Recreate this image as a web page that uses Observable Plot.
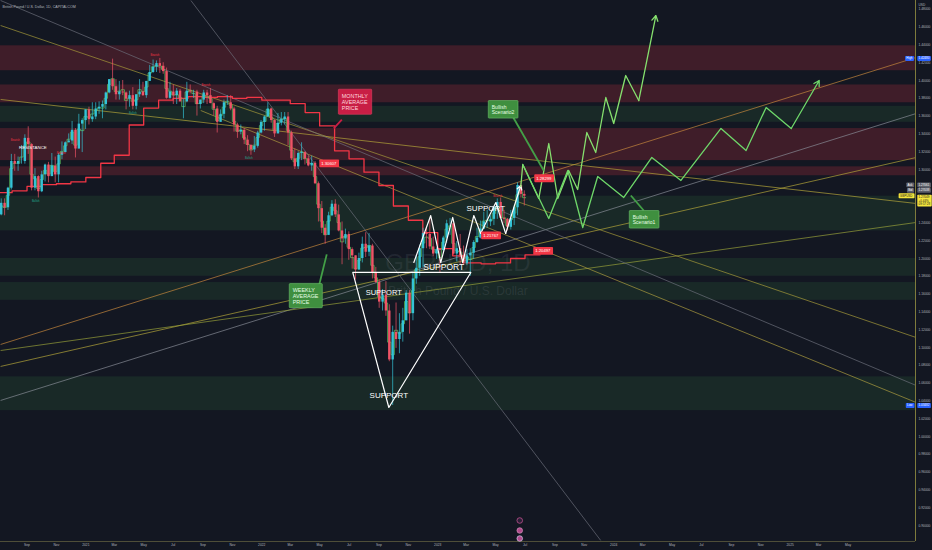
<!DOCTYPE html>
<html><head><meta charset="utf-8">
<script src="https://cdn.jsdelivr.net/npm/d3@7"></script>
<script src="https://cdn.jsdelivr.net/npm/@observablehq/plot@0.6"></script>
<style>
html,body{margin:0;padding:0;background:#131722;}
#chart{width:932px;height:550px;overflow:hidden;}
</style></head><body><div id="chart"></div>
<script>
// ---------- DATA ----------
const WEEK0 = "2020-07-06";
const OPEN0 = 1.2490;
const weekHigh = [1.2670,1.2670,1.2800,1.3170,1.3170,1.3140,1.3270,1.3390,1.3480,1.3290,1.3010,1.2930,1.2980,1.3060,1.3080,1.3180,1.3140,1.3180,1.3310,1.3310,1.3400,1.3540,1.3460,1.3620,1.3570,1.3670,
1.3700,1.3750,1.3750,1.3760,1.3770,1.3870,1.4010,1.4240,1.4010,1.3990,1.4000,1.3870,1.3880,1.3920,1.3840,1.4010,1.3980,1.3990,1.4170,1.4230,1.4220,1.4248,1.4200,1.4140,1.3980,1.3950,1.3910,1.3900,1.3790,1.3980,1.3950,1.3890,1.3890,1.3780,1.3890,1.3890,1.3910,1.3750,1.3710,1.3670,1.3780,1.3830,1.3830,1.3700,1.3520,1.3500,1.3460,1.3380,1.3280,1.3370,1.3430,1.3550,
1.3600,1.3750,1.3690,1.3560,1.3630,1.3640,1.3640,1.3640,1.3430,1.3230,1.3200,1.3300,1.3200,1.3150,1.3150,1.3090,1.2860,1.2640,1.2380,1.2520,1.2650,1.2660,1.2600,1.2410,1.2330,1.2300,1.2120,1.2030,1.2060,1.2240,1.2290,1.2280,1.2160,1.1900,1.1760,1.1650,1.1740,1.1480,1.1240,1.1500,1.1380,1.1440,1.1640,1.1640,1.1840,1.2030,1.2150,1.2340,1.2340,1.2450,1.2240,1.2120,
1.2100,1.2250,1.2430,1.2450,1.2420,1.2190,1.2270,1.2140,1.2100,1.2110,1.2200,1.2340,1.2420,1.2520,1.2540,1.2480,1.2580,1.2670,1.2680,1.2540,1.2450,1.2540,1.2590,1.2850,1.2850,1.2760];
const weekLow = [1.2480,1.2480,1.2540,1.2770,1.2980,1.2980,1.3060,1.3060,1.3170,1.2760,1.2760,1.2680,1.2740,1.2860,1.2850,1.2920,1.2850,1.2850,1.3110,1.3190,1.3300,1.3280,1.3130,1.3230,1.3190,1.3450,
1.3500,1.3530,1.3560,1.3620,1.3570,1.3670,1.3850,1.3890,1.3780,1.3780,1.3830,1.3670,1.3700,1.3670,1.3670,1.3810,1.3820,1.3800,1.3990,1.4080,1.4090,1.4080,1.4070,1.3790,1.3790,1.3730,1.3730,1.3760,1.3570,1.3750,1.3850,1.3800,1.3600,1.3680,1.3740,1.3730,1.3740,1.3600,1.3410,1.3530,1.3570,1.3720,1.3660,1.3420,1.3350,1.3390,1.3280,1.3200,1.3160,1.3190,1.3240,1.3400,
1.3430,1.3590,1.3520,1.3360,1.3400,1.3490,1.3500,1.3270,1.3100,1.3000,1.3000,1.3100,1.3050,1.3030,1.2980,1.2830,1.2410,1.2280,1.2160,1.2260,1.2470,1.2460,1.2300,1.1930,1.2160,1.1980,1.1880,1.1760,1.1870,1.1950,1.2010,1.2020,1.1770,1.1720,1.1440,1.1410,1.1350,1.0840,1.0348,1.0990,1.0930,1.1060,1.1300,1.1150,1.1300,1.1710,1.1800,1.1900,1.2110,1.2100,1.2020,1.1990,
1.1840,1.2070,1.2170,1.2260,1.2040,1.1960,1.1920,1.1920,1.1920,1.1800,1.1990,1.2170,1.2220,1.2330,1.2340,1.2360,1.2370,1.2440,1.2450,1.2390,1.2310,1.2320,1.2370,1.2480,1.2680,1.2590];
const weekClose = [1.2620,1.2570,1.2790,1.3090,1.3060,1.3090,1.3090,1.3350,1.3280,1.2790,1.2920,1.2750,1.2940,1.3050,1.2920,1.3040,1.2940,1.3160,1.3190,1.3300,1.3320,1.3440,1.3230,1.3510,1.3550,1.3670,
1.3560,1.3590,1.3680,1.3700,1.3730,1.3860,1.4010,1.3930,1.3840,1.3870,1.3860,1.3790,1.3830,1.3710,1.3840,1.3870,1.3830,1.3990,1.4090,1.4150,1.4190,1.4160,1.4100,1.3800,1.3870,1.3830,1.3880,1.3760,1.3760,1.3880,1.3870,1.3870,1.3730,1.3780,1.3860,1.3830,1.3740,1.3680,1.3530,1.3620,1.3750,1.3750,1.3680,1.3500,1.3420,1.3440,1.3330,1.3270,1.3220,1.3260,1.3410,1.3530,
1.3590,1.3680,1.3550,1.3400,1.3520,1.3560,1.3590,1.3410,1.3120,1.3030,1.3180,1.3190,1.3120,1.3040,1.3070,1.2840,1.2560,1.2340,1.2260,1.2480,1.2610,1.2490,1.2310,1.2220,1.2270,1.2100,1.2030,1.1870,1.2000,1.2160,1.2070,1.2140,1.1840,1.1730,1.1510,1.1590,1.1410,1.0860,1.1170,1.1090,1.1170,1.1300,1.1610,1.1380,1.1770,1.1890,1.2110,1.2280,1.2270,1.2130,1.2050,1.2100,
1.2090,1.2230,1.2390,1.2390,1.2050,1.2110,1.2030,1.1940,1.2030,1.2060,1.2180,1.2230,1.2330,1.2410,1.2410,1.2440,1.2570,1.2630,1.2450,1.2440,1.2350,1.2450,1.2570,1.2820,1.2720,1.2700];

// monthly average (red step line), one value per month from Jul 2020
const monthlyAvg = [1.274,1.276,1.281,1.283,1.284,1.286,1.291,1.307,1.316,1.350,1.369,1.378,1.380,1.382,1.381,1.382,1.380,1.381,1.378,1.378,1.374,1.364,1.349,1.321,1.312,1.297,1.282,1.259,1.243,1.229,1.211,1.203,1.195,1.194,1.195,1.200,1.204];

// horizontal supply / demand zones
const zoneKind = ["red","red","green","red","red","green","green","green","green"];
const zoneLow  = [1.411,1.375,1.353,1.310,1.293,1.231,1.180,1.153,1.029];
const zoneHigh = [1.439,1.395,1.371,1.346,1.303,1.270,1.200,1.173,1.067];

// trend lines (decimal year, price)
const trendX1 = [2020.517,2020.517,2020.517,2020.517,2020.517,2020.517,2020.517,2021.653,2021.597];
const trendY1 = [1.1034,1.0405,1.0787,1.3787,1.0966,1.4618,1.4899,1.3663,1.4899];
const trendX2 = [2025.716,2025.716,2025.716,2025.716,2025.716,2025.716,2025.716,2025.716,2023.926];
const trendY2 = [1.4259,1.3629,1.3135,1.2618,1.2405,1.1112,1.0573,1.0382,0.8832];
const trendColor = ["#c98a3d","#8a8f99","#b8a93a","#b8a93a","#9aa33a","#a99d3a","#6d717c","#b0a040","#6d717c"];

// white pattern drawings
const triangleYr = [2022.517,2022.722,2023.188,2022.517];
const trianglePx = [1.1843,1.0326,1.1843,1.1843];
const zigYr = [2022.864,2022.960,2023.017,2023.085,2023.142,2023.205,2023.244,2023.330,2023.386,2023.472];
const zigPx = [1.1955,1.2483,1.1955,1.2461,1.1955,1.2483,1.2281,1.2629,1.2281,1.2820];

// projected scenarios
const scen2Yr = [2023.472,2023.483,2023.574,2023.631,2023.682,2023.744,2023.795,2023.847,2023.898,2023.955,2024.0,2024.068,2024.142,2024.239];
const scen2Px = [1.2809,1.3056,1.2674,1.3292,1.2674,1.2989,1.2775,1.3416,1.3191,1.3809,1.3517,1.4056,1.3775,1.4730];
const scen1Yr = [2023.483,2023.631,2023.739,2023.824,2023.909,2024.057,2024.216,2024.381,2024.608,2024.750,2024.864,2025.006,2025.165];
const scen1Px = [1.3056,1.2450,1.2989,1.2348,1.2921,1.2686,1.3135,1.2877,1.3461,1.3214,1.3697,1.3461,1.4000];

// callouts
const calloutText = ["MONTHLY\nAVERAGE\nPRICE","WEEKLY\nAVERAGE\nPRICE","Bullish\nScenario2","Bullish\nScenario1"];
const calloutKind = ["red","green","green","green"];
const calloutSize = [5.4,5.4,5,5];
const calloutYr = [2022.455,2022.176,2023.307,2024.108];
const calloutPx = [1.3855,1.1676,1.3730,1.2494];
const tailYr1 = [2022.455,2022.324,2023.426,2024.170];
const tailPx1 = [1.3560,1.1686,1.3596,1.2539];
const tailYr2 = [2022.409,2022.369,2023.602,2024.097];
const tailPx2 = [1.3461,1.2046,1.2989,1.2708];

// white "SUPPORT"/"RESISTANCE" words
const wordText = ["RESISTANCE","SUPPORT","SUPPORT","SUPPORT","SUPPORT"];
const wordYr = [2020.700,2022.722,2022.693,2023.034,2023.273];
const wordPx = [1.3250,1.0461,1.1618,1.1899,1.2562];
const wordSize = [4.4,8,7.5,8.5,8];

// red price tags
const tagText = ["1.30607","1.28299","1.21767","1.20497"];
const tagYr = [2022.381,2023.603,2023.301,2023.597];
const tagPx = [1.3068,1.2900,1.2259,1.2083];

// pivot labels
const pivotText = ["Bearish","Bearish","Bullish","Bearish","Bullish","Bullish","Bearish","Bearish"];
const pivotYr = [2020.600,2020.860,2020.716,2021.392,2021.267,2021.926,2021.682,2023.341];
const pivotPx = [1.3330,1.3180,1.2641,1.4290,1.3629,1.3124,1.3944,1.2697];

// axis ticks
const priceTicks = [0.90,0.92,0.94,0.96,0.98,1.00,1.02,1.04,1.06,1.08,1.10,1.12,1.14,1.16,1.18,1.20,1.22,1.24,1.26,1.28,1.30,1.32,1.34,1.36,1.38,1.40,1.42,1.44,1.46,1.48];
const timeTickDates = ["2020-09-01","2020-11-01","2021-01-01","2021-03-01","2021-05-01","2021-07-01","2021-09-01","2021-11-01","2022-01-01","2022-03-01","2022-05-01","2022-07-01","2022-09-01","2022-11-01","2023-01-01","2023-03-01","2023-05-01","2023-07-01","2023-09-01","2023-11-01","2024-01-01","2024-03-01","2024-05-01","2024-07-01","2024-09-01","2024-11-01","2025-01-01","2025-03-01","2025-05-01"];
const timeTickLabels = ["Sep","Nov","2021","Mar","May","Jul","Sep","Nov","2022","Mar","May","Jul","Sep","Nov","2023","Mar","May","Jul","Sep","Nov","2024","Mar","May","Jul","Sep","Nov","2025","Mar","May"];

const highValue = 1.42480, lowValue = 1.03482;
const askValue = 1.27061, bidValue = 1.27038, lastValue = 1.27049;

// ---------- BUILD ----------
const yr = v => { const y = Math.floor(v), s = Date.UTC(y,0,1), e = Date.UTC(y+1,0,1); return new Date(s + (v - y) * (e - s)); };
const DAY = 864e5;
const w0 = new Date(WEEK0 + "T00:00:00Z").getTime();
const candles = weekClose.map((c, i) => ({
  mid: new Date(w0 + (7 * i + 3.5) * DAY),
  start: new Date(w0 + 7 * i * DAY),
  open: i ? weekClose[i - 1] : OPEN0,
  high: weekHigh[i], low: weekLow[i], close: c
}));
candles.forEach(d => { d.up = d.close >= d.open; });
const weekly = candles.map(d => ({x: d.start, y: (d.high + d.low + d.close) / 3}));
weekly.push({x: new Date(w0 + 7 * candles.length * DAY), y: weekly[weekly.length - 1].y});
const monthly = monthlyAvg.map((v, i) => ({x: new Date(Date.UTC(2020, 6 + i, 1)), y: v}));
monthly.push({x: new Date(Date.UTC(2020, 6 + monthlyAvg.length, 1)), y: monthlyAvg[monthlyAvg.length - 1]});

const xDomain = [new Date("2020-07-08T00:00:00Z"), new Date("2025-09-18T00:00:00Z")];
const yDomain = [0.8820, 1.4899];
const zones = zoneKind.map((k, i) => ({k, lo: zoneLow[i], hi: zoneHigh[i]}));
const trends = trendX1.map((x, i) => ({x1: yr(x), y1: trendY1[i], x2: yr(trendX2[i]), y2: trendY2[i], c: trendColor[i]}));
const pts = (xs, ys) => xs.map((x, i) => ({x: yr(x), y: ys[i]}));
const tri = pts(triangleYr, trianglePx);
const zig = pts(zigYr, zigPx);
const s2 = pts(scen2Yr, scen2Px);
const s1 = pts(scen1Yr, scen1Px);
const lastSeg = a => [{x1: a[a.length - 2].x, y1: a[a.length - 2].y, x2: a[a.length - 1].x, y2: a[a.length - 1].y}];
const callouts = calloutText.map((t, i) => ({t, k: calloutKind[i], s: calloutSize[i], x: yr(calloutYr[i]), y: calloutPx[i],
  x1: yr(tailYr1[i]), y1: tailPx1[i], x2: yr(tailYr2[i]), y2: tailPx2[i]}));
const words = wordText.map((t, i) => ({t, x: yr(wordYr[i]), y: wordPx[i], s: wordSize[i]}));
const tags = tagText.map((t, i) => ({t, x: yr(tagYr[i]), y: tagPx[i]}));
const pivots = pivotText.map((t, i) => ({t, x: yr(pivotYr[i]), y: pivotPx[i]}));
const tickDates = timeTickDates.map(d => new Date(d + "T00:00:00Z"));
const tickMap = new Map(tickDates.map((d, i) => [+d, timeTickLabels[i]]));
const xEnd = xDomain[1];
const evDate = yr(2023.466);
const fmt5 = d3.format(".5f");
const lastLabel = fmt5(lastValue) + "\n+0.44%\n09:57:28";

const chart = Plot.plot({
  width: 932, height: 550,
  marginLeft: 0, marginRight: 17, marginTop: 0, marginBottom: 9,
  x: {type: "utc", domain: xDomain},
  y: {domain: yDomain},
  style: {background: "#131722", color: "#b2b5be", fontFamily: "Liberation Sans, Arial, sans-serif"},
  marks: [
    Plot.rect(zones, {x1: () => xDomain[0], x2: () => xDomain[1], y1: "lo", y2: "hi",
      fill: d => d.k === "red" ? "#f23645" : "#4caf50", fillOpacity: d => d.k === "red" ? 0.2 : 0.12}),
    Plot.text(["GBPUSD, 1D"], {frameAnchor: "middle", dy: -8, text: d => d, fontSize: 24, fill: "#787b86", fillOpacity: 0.16}),
    Plot.text(["British Pound / U.S. Dollar"], {frameAnchor: "middle", dy: 20, text: d => d, fontSize: 12, fill: "#787b86", fillOpacity: 0.2}),
    Plot.link(trends, {x1: "x1", y1: "y1", x2: "x2", y2: "y2", stroke: d => d.c, strokeWidth: 0.8, strokeOpacity: 0.85, clip: true}),
    Plot.line(monthly, {x: "x", y: "y", curve: "step-after", stroke: "#f23645", strokeWidth: 1.3}),
    Plot.line(weekly, {x: "x", y: "y", curve: "step-after", stroke: "#5cc962", strokeWidth: 0.8, strokeOpacity: 0.9}),
    Plot.ruleX(candles, {x: "mid", y1: "low", y2: "high", stroke: d => d.up ? "#34c3d6" : "#ef5366", strokeWidth: 0.7}),
    Plot.ruleX(candles, {x: "mid", y1: "open", y2: "close", stroke: d => d.up ? "#34c3d6" : "#ef5366", strokeWidth: 2.4}),
    Plot.line(tri, {x: "x", y: "y", stroke: "#ffffff", strokeWidth: 1.2}),
    Plot.line(zig.slice(0, -1), {x: "x", y: "y", stroke: "#ffffff", strokeWidth: 1.2}),
    Plot.arrow(lastSeg(zig), {x1: "x1", y1: "y1", x2: "x2", y2: "y2", stroke: "#ffffff", strokeWidth: 1.2, headLength: 6}),
    Plot.line(s2.slice(0, -1), {x: "x", y: "y", stroke: "#86e06e", strokeWidth: 1.3}),
    Plot.arrow(lastSeg(s2), {x1: "x1", y1: "y1", x2: "x2", y2: "y2", stroke: "#86e06e", strokeWidth: 1.3, headLength: 7}),
    Plot.line(s1.slice(0, -1), {x: "x", y: "y", stroke: "#6fd86a", strokeWidth: 1.3}),
    Plot.arrow(lastSeg(s1), {x1: "x1", y1: "y1", x2: "x2", y2: "y2", stroke: "#6fd86a", strokeWidth: 1.3, headLength: 7}),
    Plot.link(callouts, {x1: "x1", y1: "y1", x2: "x2", y2: "y2", stroke: d => d.k === "red" ? "#c81e45" : "#43a047", strokeWidth: 1.8}),
    Plot.text(callouts, {x: "x", y: "y", text: "t", textAnchor: "start", lineAnchor: "top", fontSize: d => d.s, lineHeight: 1.12, fill: d => d.k === "red" ? "#ffd6df" : "#e6ffe6"}),
    Plot.text(words, {x: "x", y: "y", text: "t", fontSize: d => d.s, fill: "#ffffff", fontFamily: "Liberation Sans Narrow, Liberation Sans, sans-serif"}),
    Plot.text(tags, {x: "x", y: "y", text: "t", fontSize: 4.2, fill: "#ffffff"}),
    Plot.text(pivots, {x: "x", y: "y", text: "t", fontSize: 2.6, fill: d => d.t === "Bearish" ? "#f23645" : "#22ab94"}),
    Plot.text(["British Pound / U.S. Dollar, 1D, CAPITALCOM"], {frameAnchor: "top-left", dx: 2, dy: 5, text: d => d, textAnchor: "start", fontSize: 3.6, fill: "#b2b5be"}),
    Plot.ruleY([yDomain[0]], {stroke: "#5e5d3e", strokeWidth: 0.8}),
    Plot.ruleX([xEnd], {stroke: "#8a8740", strokeWidth: 0.9}),
    Plot.axisY(priceTicks, {anchor: "right", tickSize: 0, tickPadding: 3, tickFormat: fmt5, fontSize: 3.3}),
    Plot.axisX(tickDates, {anchor: "bottom", tickSize: 0, tickPadding: 2.5, tickFormat: d => tickMap.get(+d), fontSize: 3.3}),
    Plot.text(["USD"], {frameAnchor: "top-right", dx: 3, dy: 3, text: d => d, textAnchor: "start", fontSize: 3.2, fill: "#b2b5be"}),
    Plot.text([{t: "High", y: highValue}, {t: "Low", y: lowValue}], {x: () => xEnd, y: "y", text: "t", dx: -3, textAnchor: "end", fontSize: 3, fill: "#ffffff"}),
    Plot.text([highValue, lowValue], {x: () => xEnd, y: d => d, text: d => fmt5(d), dx: 3, textAnchor: "start", fontSize: 3, fill: "#ffffff"}),
    Plot.text([{t: "Ask", y: askValue + 0.012}, {t: "Bid", y: askValue + 0.006}], {x: () => xEnd, y: "y", text: "t", dx: -3, textAnchor: "end", fontSize: 3, fill: "#ffffff"}),
    Plot.text([{v: askValue, y: askValue + 0.012}, {v: bidValue, y: askValue + 0.006}], {x: () => xEnd, y: "y", text: d => fmt5(d.v), dx: 3, textAnchor: "start", fontSize: 3, fill: "#ffffff"}),
    Plot.text(["GBPUSD"], {x: () => xEnd, y: () => lastValue, text: d => d, dx: -3, textAnchor: "end", fontSize: 3, fill: "#131722"}),
    Plot.text([lastLabel], {x: () => xEnd, y: () => lastValue, text: d => d, dx: 3, textAnchor: "start", lineAnchor: "top", fontSize: 3, lineHeight: 1.15, fill: "#131722"}),
    Plot.dot([evDate], {x: d => d, frameAnchor: "bottom", dy: -21, r: 2.8, fill: "#2a1f36", stroke: "#c0508f", strokeWidth: 0.8}),
    Plot.dot([evDate], {x: d => d, frameAnchor: "bottom", dy: -11, r: 2.8, fill: "#b04a8c", stroke: "#e0a0c8", strokeWidth: 0.6}),
    Plot.dot([evDate], {x: d => d, frameAnchor: "bottom", dy: -3, r: 2.8, fill: "#b04a8c", stroke: "#e0e0ff", strokeWidth: 0.6})
  ]
});
document.getElementById("chart").append(chart);

// label backgrounds, matched by their text content
const bgStyle = new Map();
callouts.forEach(d => bgStyle.set(d.t.replace(/\n/g, ""), d.k === "red"
  ? {fill: "#c81e45", stroke: "#e04060", px: 3.5, py: 3.5}
  : {fill: "#3f8f3f", stroke: "#6cc06c", px: 3.5, py: 3}));
tagText.forEach(t => bgStyle.set(t, {fill: "#f23645", px: 2, py: 1.4}));
["High", "Low", fmt5(highValue), fmt5(lowValue)].forEach(t => bgStyle.set(t, {fill: "#2962ff", px: 1.2, py: 0.5}));
["Ask", "Bid", fmt5(askValue), fmt5(bidValue)].forEach(t => bgStyle.set(t, {fill: "#5d606b", px: 1.2, py: 0.4}));
["GBPUSD", lastLabel.replace(/\n/g, "")].forEach(t => bgStyle.set(t, {fill: "#f5e63c", px: 1.2, py: 0.5}));
chart.querySelectorAll("text").forEach(t => {
  const s = bgStyle.get(t.textContent);
  if (!s) return;
  const b = t.getBBox();
  const r = document.createElementNS("http://www.w3.org/2000/svg", "rect");
  r.setAttribute("x", b.x - s.px); r.setAttribute("y", b.y - s.py);
  r.setAttribute("width", b.width + 2 * s.px); r.setAttribute("height", b.height + 2 * s.py);
  r.setAttribute("rx", 0.8);
  r.setAttribute("fill", s.fill);
  if (s.stroke) { r.setAttribute("stroke", s.stroke); r.setAttribute("stroke-width", 0.6); }
  const tr = t.getAttribute("transform"); if (tr) r.setAttribute("transform", tr);
  t.parentNode.insertBefore(r, t);
});
</script></body></html>
